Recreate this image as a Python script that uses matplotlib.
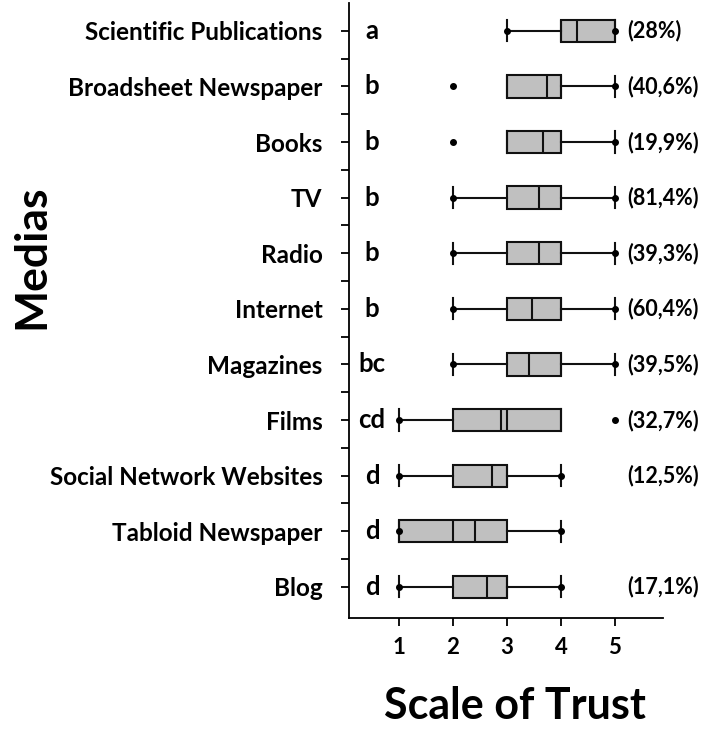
import matplotlib.pyplot as plt

plt.rcParams['font.family'] = ['Lato', 'DejaVu Sans']
plt.rcParams['font.weight'] = 'bold'

# rows listed top to bottom
medias = ['Scientific Publications', 'Broadsheet Newspaper', 'Books', 'TV', 'Radio',
          'Internet', 'Magazines', 'Films', 'Social Network Websites',
          'Tabloid Newspaper', 'Blog']
letters = ['a', 'b', 'b', 'b', 'b', 'b', 'bc', 'cd', 'd', 'd', 'd']
percents = ['(28%)', '(40,6%)', '(19,9%)', '(81,4%)', '(39,3%)', '(60,4%)',
            '(39,5%)', '(32,7%)', '(12,5%)', '', '(17,1%)']
q1 = [4, 3, 3, 3, 3, 3, 3, 2, 2, 1, 2]
q3 = [5, 4, 4, 4, 4, 4, 4, 4, 3, 3, 3]
medians = [4, 4, 4, 4, 4, 4, 4, 3, 3, 2, 3]
means = [4.29, 3.75, 3.67, 3.60, 3.60, 3.47, 3.41, 2.89, 2.73, 2.41, 2.63]
whislo = [3, 3, 3, 2, 2, 2, 2, 1, 1, 1, 1]
whishi = [5, 5, 5, 5, 5, 5, 5, 4, 4, 4, 4]
fliers = [[], [2], [2], [], [], [], [], [5], [], [], []]
dot_lo = [True, False, False, True, True, True, True, True, True, True, True]
dot_hi = [True, True, True, True, True, True, True, False, True, True, True]

n = len(medias)
pos = [n - 1 - i for i in range(n)]

stats = []
for i in range(n):
    stats.append(dict(med=medians[i], q1=q1[i], q3=q3[i], whislo=whislo[i],
                      whishi=whishi[i], mean=means[i], fliers=fliers[i]))

fig = plt.figure(figsize=(7.04, 7.30), dpi=100)
ax = fig.add_axes([349 / 704, 1 - 618 / 730, (663 - 349) / 704, (618 - 3) / 730])

lw = 1.5
ax.bxp(stats, positions=pos, vert=False, widths=0.4, patch_artist=True,
       showmeans=True, meanline=True, capwidths=0.38,
       boxprops=dict(facecolor='#c0c0c0', edgecolor='#111111', linewidth=lw),
       medianprops=dict(color='#111111', linewidth=lw),
       meanprops=dict(color='#111111', linewidth=lw, linestyle='-'),
       whiskerprops=dict(color='#111111', linewidth=lw),
       capprops=dict(color='#111111', linewidth=lw),
       flierprops=dict(marker='o', markerfacecolor='black', markeredgecolor='black',
                       markersize=4))

for i in range(n):
    if dot_lo[i]:
        ax.plot(whislo[i], pos[i], 'o', color='black', markersize=4, zorder=5)
    if dot_hi[i]:
        ax.plot(whishi[i], pos[i], 'o', color='black', markersize=4, zorder=5)
    ax.text(0.5, pos[i], letters[i], ha='center', va='center', fontsize=18.5,
            fontweight='bold')
    ax.text(5.22, pos[i], percents[i], ha='left', va='center', fontsize=15.5,
            fontweight='bold')

ax.set_xlim(0.074, 5.89)
ax.set_ylim(-0.56, 10.5)
ax.set_xticks([1, 2, 3, 4, 5])
ax.set_xticklabels(['1', '2', '3', '4', '5'], fontsize=16, fontweight='bold')
ax.set_yticks(pos)
ax.set_yticklabels(medias, fontsize=17.5, fontweight='bold')
ax.set_yticks([p + 0.5 for p in range(n - 1)], minor=True)
ax.tick_params(axis='y', which='both', length=6, width=1.3, pad=13)
ax.tick_params(axis='x', length=6, width=1.3, pad=8)
for s in ['top', 'right']:
    ax.spines[s].set_visible(False)
for s in ['left', 'bottom']:
    ax.spines[s].set_linewidth(1.3)

fig.text(31 / 704, 1 - 257 / 730, 'Medias', rotation=90, ha='center', va='center',
         fontsize=32, fontweight='bold')
fig.text(515 / 704, 1 - 706 / 730, 'Scale of Trust', ha='center', va='center',
         fontsize=31, fontweight='bold')

fig.savefig('out.png', dpi=100)
